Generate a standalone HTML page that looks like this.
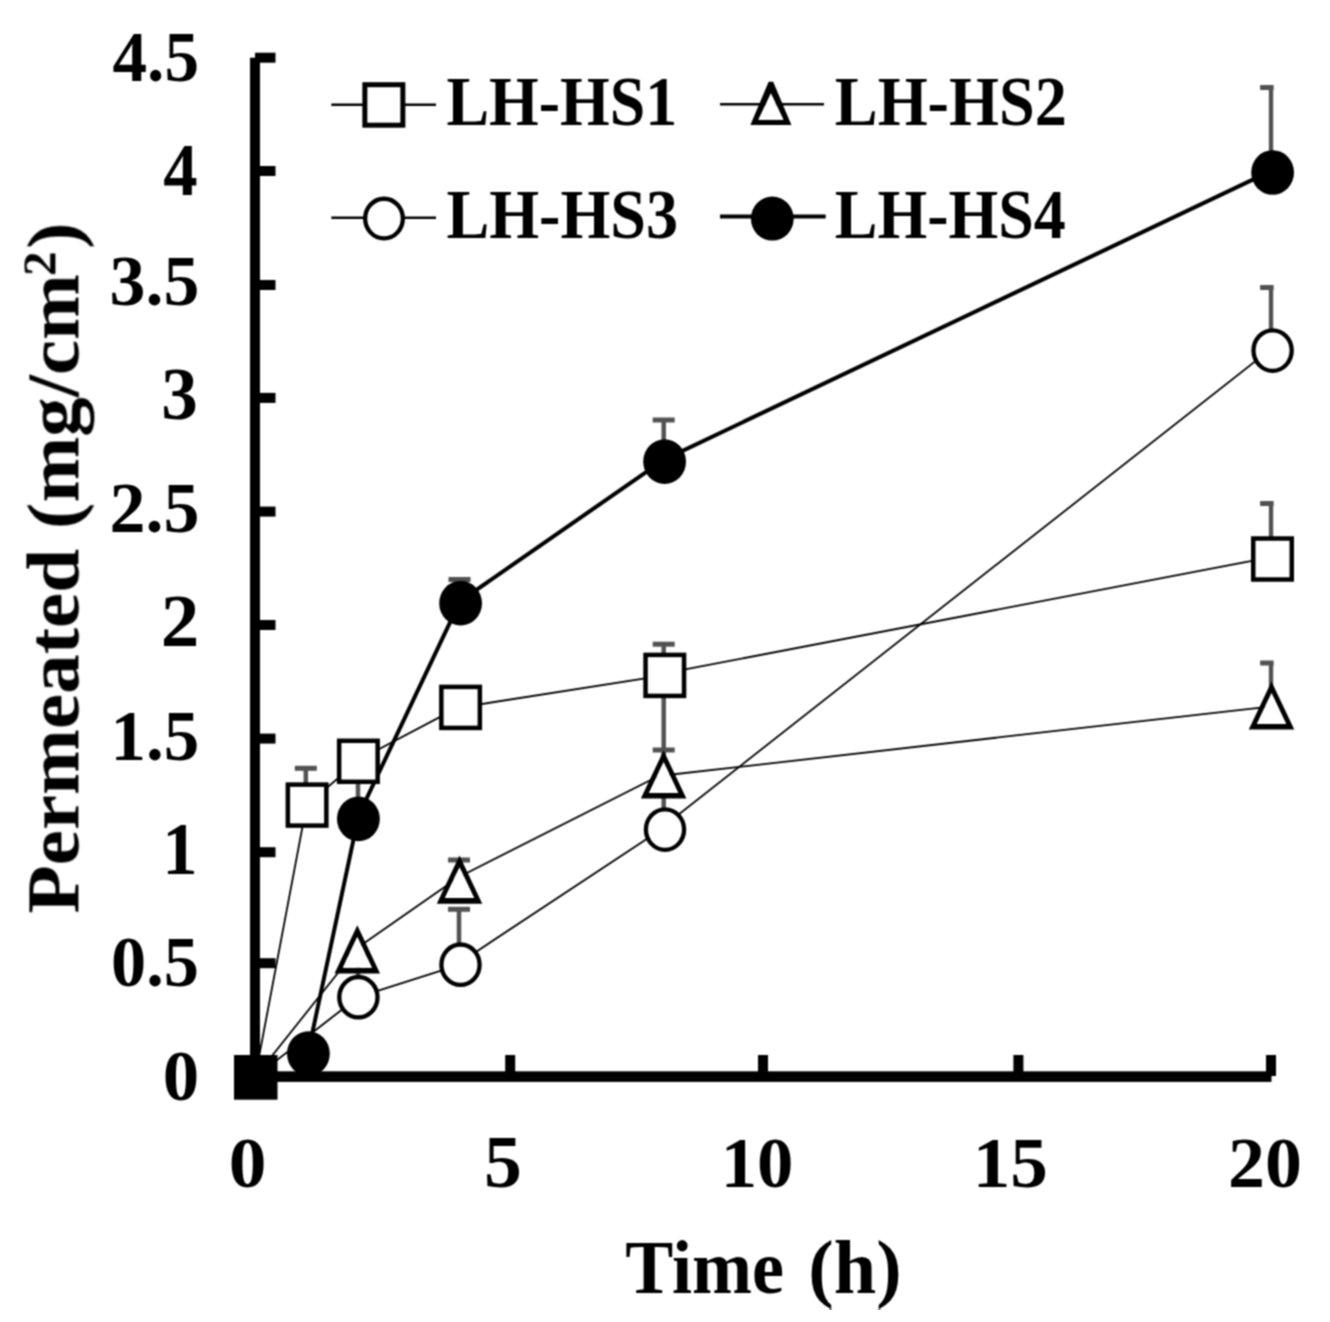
<!DOCTYPE html>
<html><head><meta charset="utf-8"><title>Permeated vs Time</title>
<style>html,body{margin:0;padding:0;background:#fff;overflow:hidden}</style>
</head><body><div>
<svg width="1330" height="1322" viewBox="0 0 1330 1322" style="display:block">
<defs><filter id="bl" x="0" y="0" width="1" height="1" color-interpolation-filters="sRGB"><feConvolveMatrix order="3" kernelMatrix="1 2 1 2 4 2 1 2 1" divisor="16" edgeMode="duplicate"/></filter></defs>
<rect width="1330" height="1322" fill="#fff"/>
<g filter="url(#bl)">
<g font-family='"Liberation Serif", serif' font-weight="bold" fill="#000">
<text transform="translate(112.53,80.91) scale(0.9521,1)" font-size="72.62">4.5</text>
<text transform="translate(163.34,195.13) scale(0.9249,1)" font-size="74.32">4</text>
<text transform="translate(109.57,304.71) scale(0.9910,1)" font-size="72.49">3.5</text>
<text transform="translate(161.22,419.39) scale(0.9888,1)" font-size="73.96">3</text>
<text transform="translate(109.48,532.01) scale(0.9920,1)" font-size="72.49">2.5</text>
<text transform="translate(160.76,646.33) scale(1.0354,1)" font-size="74.47">2</text>
<text transform="translate(110.62,759.51) scale(0.9761,1)" font-size="72.70">1.5</text>
<text transform="translate(162.35,873.53) scale(0.9654,1)" font-size="73.18">1</text>
<text transform="translate(111.03,985.82) scale(0.9761,1)" font-size="72.02">0.5</text>
<text transform="translate(162.63,1099.60) scale(1.0080,1)" font-size="72.30">0</text>
<text transform="translate(228.63,1186.80) scale(1.0439,1)" font-size="72.30">0</text>
<text transform="translate(483.97,1186.79) scale(1.0309,1)" font-size="73.38">5</text>
<text transform="translate(720.68,1186.80) scale(1.0068,1)" font-size="72.30">10</text>
<text transform="translate(972.78,1186.80) scale(1.0324,1)" font-size="72.84">15</text>
<text transform="translate(1228.10,1186.80) scale(1.0224,1)" font-size="72.30">20</text>
<text transform="translate(625.35,1292.50) scale(0.9470,1)" font-size="76.00">Time</text>
<text transform="translate(808.34,1292.50) scale(1.0048,1)" font-size="76.00">(h)</text>
<text transform="translate(446.41,124.73) scale(0.9140,1)" font-size="69.94">LH-HS1</text>
<text transform="translate(834.81,124.73) scale(0.9186,1)" font-size="69.94">LH-HS2</text>
<text transform="translate(446.41,237.84) scale(0.9293,1)" font-size="69.05">LH-HS3</text>
<text transform="translate(834.81,237.84) scale(0.9266,1)" font-size="69.05">LH-HS4</text>
<g transform="translate(78.40,913.55) rotate(-90) scale(1.074,1)">
<text x="0" y="0" font-size="73.7">Permeated (mg/cm</text>
<text x="593.63" y="-23.2" font-size="46.0">2</text>
<text x="618.93" y="0" font-size="73.7">)</text>
</g>
</g>
<g fill="#000">
<rect x="250" y="57.7" width="10" height="1023.8"/>
<rect x="250" y="1071.3" width="1021.5" height="10.6"/>
<rect x="255" y="52.7" width="20.5" height="10"/>
<rect x="255" y="166.0" width="20.5" height="10"/>
<rect x="255" y="280.0" width="20.5" height="10"/>
<rect x="255" y="392.9" width="20.5" height="10"/>
<rect x="255" y="506.6" width="20.5" height="10"/>
<rect x="255" y="620.0" width="20.5" height="10"/>
<rect x="255" y="733.6" width="20.5" height="10"/>
<rect x="255" y="847.2" width="20.5" height="10"/>
<rect x="255" y="958.2" width="20.5" height="10"/>
<rect x="505.2" y="1055" width="10" height="21"/>
<rect x="758.0" y="1055" width="10" height="21"/>
<rect x="1013.4" y="1055" width="10" height="21"/>
<rect x="1266.0" y="1055" width="10" height="21"/>
</g>
<defs><clipPath id="pc"><rect x="0" y="0" width="1273.6" height="1322"/></clipPath></defs>
<g clip-path="url(#pc)">
<line x1="305.8" y1="805.1" x2="305.8" y2="768.3" stroke="#525252" stroke-width="4.5"/>
<line x1="294.8" y1="768.3" x2="316.8" y2="768.3" stroke="#525252" stroke-width="5"/>
<line x1="663.7" y1="675.4" x2="663.7" y2="644.2" stroke="#525252" stroke-width="4.5"/>
<line x1="652.7" y1="644.2" x2="674.7" y2="644.2" stroke="#525252" stroke-width="5"/>
<line x1="1271.1" y1="559.0" x2="1271.1" y2="503.4" stroke="#525252" stroke-width="4.5"/>
<line x1="1260.1" y1="503.4" x2="1282.1" y2="503.4" stroke="#525252" stroke-width="5"/>
<line x1="459.0" y1="879.6" x2="459.0" y2="860.0" stroke="#525252" stroke-width="4.5"/>
<line x1="448.0" y1="860.0" x2="470.0" y2="860.0" stroke="#525252" stroke-width="5"/>
<line x1="663.7" y1="774.5" x2="663.7" y2="685.0" stroke="#525252" stroke-width="4.5"/>
<line x1="652.7" y1="685.0" x2="674.7" y2="685.0" stroke="#525252" stroke-width="5"/>
<line x1="1271.1" y1="705.5" x2="1271.1" y2="663.0" stroke="#525252" stroke-width="4.5"/>
<line x1="1260.1" y1="663.0" x2="1282.1" y2="663.0" stroke="#525252" stroke-width="5"/>
<line x1="358.0" y1="997.2" x2="358.0" y2="955.0" stroke="#525252" stroke-width="4.5"/>
<line x1="347.0" y1="955.0" x2="369.0" y2="955.0" stroke="#525252" stroke-width="5"/>
<line x1="459.0" y1="964.7" x2="459.0" y2="909.3" stroke="#525252" stroke-width="4.5"/>
<line x1="448.0" y1="909.3" x2="470.0" y2="909.3" stroke="#525252" stroke-width="5"/>
<line x1="663.7" y1="829.6" x2="663.7" y2="750.0" stroke="#525252" stroke-width="4.5"/>
<line x1="652.7" y1="750.0" x2="674.7" y2="750.0" stroke="#525252" stroke-width="5"/>
<line x1="1271.1" y1="350.6" x2="1271.1" y2="287.5" stroke="#525252" stroke-width="4.5"/>
<line x1="1260.1" y1="287.5" x2="1282.1" y2="287.5" stroke="#525252" stroke-width="5"/>
<line x1="358.0" y1="818.9" x2="358.0" y2="770.0" stroke="#525252" stroke-width="4.5"/>
<line x1="347.0" y1="770.0" x2="369.0" y2="770.0" stroke="#525252" stroke-width="5"/>
<line x1="459.5" y1="603.2" x2="459.5" y2="579.5" stroke="#525252" stroke-width="4.5"/>
<line x1="448.5" y1="579.5" x2="470.5" y2="579.5" stroke="#525252" stroke-width="5"/>
<line x1="663.7" y1="461.6" x2="663.7" y2="420.0" stroke="#525252" stroke-width="4.5"/>
<line x1="652.7" y1="420.0" x2="674.7" y2="420.0" stroke="#525252" stroke-width="5"/>
<line x1="1271.1" y1="172.5" x2="1271.1" y2="87.5" stroke="#525252" stroke-width="4.5"/>
<line x1="1260.1" y1="87.5" x2="1282.1" y2="87.5" stroke="#525252" stroke-width="5"/>
</g>
<path d="M255.2,1077.0L306.6,805.1M306.6,805.1L357.9,761.3M357.9,760.3L460.1,706.4M460.1,707.4L664.3,675.4M664.3,673.4L1272.0,557.0" fill="none" stroke="#000" stroke-width="1.8" stroke-linecap="butt"/>
<path d="M255.2,1077.0L356.8,949.3M356.8,948.3L459.0,877.0M459.0,877.0L663.1,773.7M663.1,775.5L1271.0,706.5" fill="none" stroke="#000" stroke-width="1.8" stroke-linecap="butt"/>
<path d="M255.2,1077.0L357.9,997.2M357.9,997.2L460.0,964.7M460.0,962.4L664.5,827.3M664.5,825.6L1272.1,348.0" fill="none" stroke="#000" stroke-width="1.8" stroke-linecap="butt"/>
<path d="M307.9,1053.6L357.9,818.9M357.9,816.9L460.1,601.2M460.1,601.2L664.1,459.6M664.1,459.6L1272.1,170.5" fill="none" stroke="#000" stroke-width="4" stroke-linecap="butt"/>
<rect x="287.85" y="784.60" width="38.50" height="41.00" fill="#fff" stroke="#000" stroke-width="4.5"/>
<rect x="339.15" y="740.80" width="38.50" height="41.00" fill="#fff" stroke="#000" stroke-width="4.5"/>
<rect x="441.35" y="686.90" width="38.50" height="41.00" fill="#fff" stroke="#000" stroke-width="4.5"/>
<rect x="645.55" y="654.90" width="38.50" height="41.00" fill="#fff" stroke="#000" stroke-width="4.5"/>
<rect x="1253.25" y="538.50" width="38.50" height="41.00" fill="#fff" stroke="#000" stroke-width="4.5"/>
<path d="M357.30,925.20 L380.05,973.40 L334.55,973.40 Z M357.30,936.91 L371.88,967.80 L342.72,967.80 Z" fill="#000" fill-rule="evenodd"/>
<path d="M357.30,936.91 L371.88,967.80 L342.72,967.80 Z" fill="#fff"/>
<path d="M459.50,855.50 L482.25,903.70 L436.75,903.70 Z M459.50,867.21 L474.08,898.10 L444.92,898.10 Z" fill="#000" fill-rule="evenodd"/>
<path d="M459.50,867.21 L474.08,898.10 L444.92,898.10 Z" fill="#fff"/>
<path d="M663.60,750.40 L686.35,798.60 L640.85,798.60 Z M663.60,762.11 L678.18,793.00 L649.02,793.00 Z" fill="#000" fill-rule="evenodd"/>
<path d="M663.60,762.11 L678.18,793.00 L649.02,793.00 Z" fill="#fff"/>
<path d="M1271.50,681.40 L1294.25,729.60 L1248.75,729.60 Z M1271.50,693.11 L1286.08,724.00 L1256.92,724.00 Z" fill="#000" fill-rule="evenodd"/>
<path d="M1271.50,693.11 L1286.08,724.00 L1256.92,724.00 Z" fill="#fff"/>
<ellipse cx="358.4" cy="997.2" rx="19.10" ry="20.20" fill="#fff" stroke="#000" stroke-width="4.3"/>
<ellipse cx="460.5" cy="964.7" rx="19.10" ry="20.20" fill="#fff" stroke="#000" stroke-width="4.3"/>
<ellipse cx="665.0" cy="829.6" rx="19.10" ry="20.20" fill="#fff" stroke="#000" stroke-width="4.3"/>
<ellipse cx="1272.6" cy="350.6" rx="19.10" ry="20.20" fill="#fff" stroke="#000" stroke-width="4.3"/>
<ellipse cx="308.4" cy="1053.6" rx="21.40" ry="22.35" fill="#000"/>
<ellipse cx="358.4" cy="818.9" rx="21.40" ry="22.35" fill="#000"/>
<ellipse cx="460.6" cy="603.2" rx="21.40" ry="22.35" fill="#000"/>
<ellipse cx="664.6" cy="461.6" rx="21.40" ry="22.35" fill="#000"/>
<ellipse cx="1272.6" cy="172.5" rx="21.40" ry="22.35" fill="#000"/>
<rect x="234" y="1055" width="43.5" height="44.7" fill="#000"/>
<line x1="331.3" y1="104.7" x2="436" y2="104.7" stroke="#000" stroke-width="2.6"/>
<rect x="364.85" y="84.70" width="38.00" height="40.50" fill="#fff" stroke="#000" stroke-width="5.0"/>
<line x1="720" y1="104.3" x2="824" y2="104.3" stroke="#000" stroke-width="2.6"/>
<path d="M768.65,81.80 L773.15,81.80 L791.40,124.90 L750.40,124.90 Z M770.90,93.44 L783.39,119.70 L758.41,119.70 Z" fill="#000" fill-rule="evenodd"/>
<path d="M770.90,93.44 L783.39,119.70 L758.41,119.70 Z" fill="#fff"/>
<line x1="331.3" y1="217.7" x2="436" y2="217.7" stroke="#000" stroke-width="2.6"/>
<ellipse cx="384" cy="218.6" rx="18.85" ry="19.85" fill="#fff" stroke="#000" stroke-width="4.3"/>
<line x1="720" y1="216.6" x2="825.7" y2="216.6" stroke="#000" stroke-width="4"/>
<ellipse cx="772.3" cy="218.6" rx="21.40" ry="22.00" fill="#000"/>
</g>
</svg>
</div></body></html>
